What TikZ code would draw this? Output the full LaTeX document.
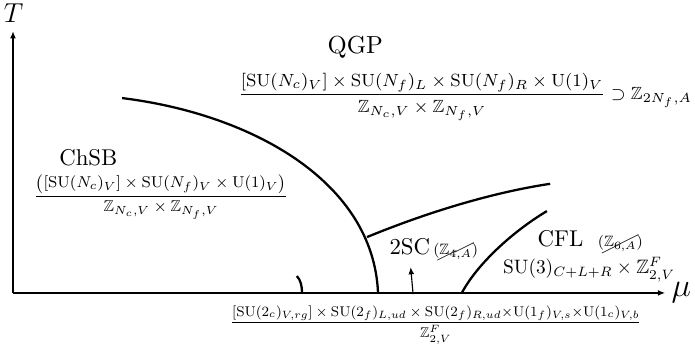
\documentclass[tikz,border=0pt]{standalone}
\usepackage{amsmath,amssymb}
\usepackage{cancel}
\usetikzlibrary{arrows.meta, positioning}
\tikzset{
  every picture/.style={line width=0.6pt},
  axis/.style={-{Latex[length=1.1mm,width=0.9mm]}, line width=0.6pt},
  boundary/.style={line width=1pt},
  pointer/.style={-{Latex[length=1.1mm,width=0.9mm]}, line width=0.5pt},
  phase/.style={font=\normalsize, inner sep=1pt},
  sym/.style={font=\footnotesize, inner sep=1pt, scale=#1},
  sym/.default=1,
}

\begin{document}
\begin{tikzpicture}
  \useasboundingbox (-0.20,-0.86) rectangle (10.50,4.51);
  % axes
  \coordinate (origin) at (0,0);
  \coordinate (t-end) at (0,4.03);
  \coordinate (mu-end) at (10.04,0);
  \draw[axis] (origin) -- (t-end);
  \draw[axis] (origin) -- (mu-end);
  \node[font=\large] (t-lbl) at (0.01,4.30) {$T$};
  \node[font=\Large] (mu-lbl) at (10.29,0) {$\mu$};
  % phase boundaries
  \draw[boundary] (1.68,3.00) .. controls (3.70,2.75) and (5.55,1.70) .. (5.62,0);
  \draw[boundary] (5.45,0.86) .. controls (6.40,1.25) and (7.40,1.55) .. (8.27,1.68);
  \draw[boundary] (6.91,0) .. controls (7.15,0.45) and (7.70,0.95) .. (8.22,1.26);
  \draw[boundary] (4.37,0.26) .. controls (4.43,0.20) and (4.45,0.10) .. (4.45,0);
  % QGP
  \node[phase, scale=1.08] (qgp) at (5.27,3.79) {QGP};
  \node[sym=0.966] (qgp-sym) at (6.96,3.02)
    {$\dfrac{[\mathrm{SU}(N_c)_V]\times\mathrm{SU}(N_f)_L\times\mathrm{SU}(N_f)_R\times\mathrm{U}(1)_V}{\mathbb{Z}_{N_c,V}\times\mathbb{Z}_{N_f,V}}\supset\mathbb{Z}_{2N_f,A}$};
  % ChSB
  \node[phase] (chsb) at (1.16,2.08) {ChSB};
  \node[sym=0.861] (chsb-sym) at (2.28,1.48)
    {$\dfrac{\big([\mathrm{SU}(N_c)_V]\times\mathrm{SU}(N_f)_V\times\mathrm{U}(1)_V\big)}{\mathbb{Z}_{N_c,V}\times\mathbb{Z}_{N_f,V}}$};
  % 2SC
  \node[phase] (twosc) at (6.11,0.71) {2SC};
  \node[sym=0.82, base right=-1pt of twosc] (twosc-z) {$(\cancel{\mathbb{Z}_{4,A}})$};
  \node[sym=0.773] (twosc-sym) at (6.51,-0.49)
    {$\dfrac{[\mathrm{SU}(2_c)_{V,rg}]\times\mathrm{SU}(2_f)_{L,ud}\times\mathrm{SU}(2_f)_{R,ud}{\times}\mathrm{U}(1_f)_{V,s}{\times}\mathrm{U}(1_c)_{V,b}}{\mathbb{Z}^F_{2,V}}$};
  \coordinate (arr-start) at (6.16,-0.02);
  \draw[pointer, shorten >=4pt] (arr-start) -- (twosc.south);
  % CFL
  \node[phase] (cfl) at (8.43,0.83) {CFL};
  \node[sym=0.82, base right=4pt of cfl] (cfl-z) {$(\cancel{\mathbb{Z}_{6,A}})$};
  \node[phase, scale=0.85] (cfl-sym) at (8.87,0.36) {$\mathrm{SU}(3)_{C+L+R}\times\mathbb{Z}^F_{2,V}$};
\end{tikzpicture}
\end{document}
